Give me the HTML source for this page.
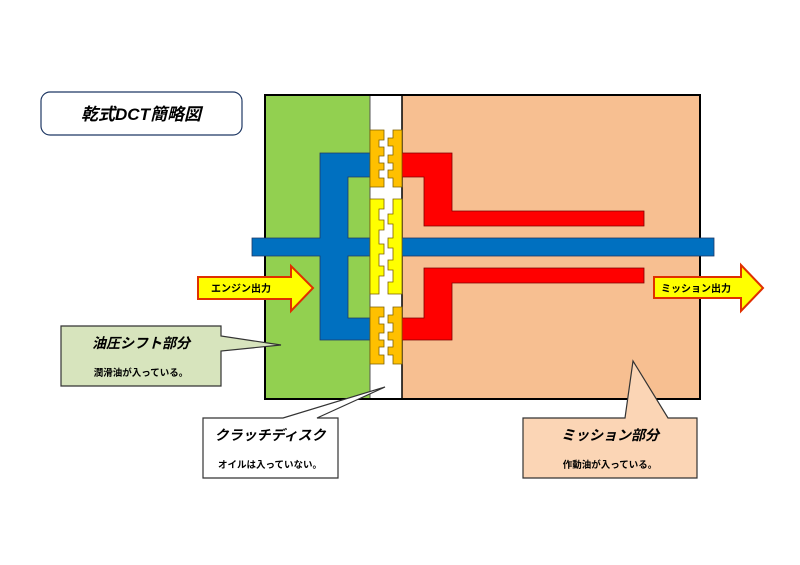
<!DOCTYPE html>
<html><head><meta charset="utf-8"><style>
html,body{margin:0;padding:0;background:#fff;}
svg{display:block;}
text{font-family:"Liberation Sans","Noto Sans CJK JP",sans-serif;font-weight:bold;}
</style></head><body>
<svg width="800" height="565" viewBox="0 0 800 565" xmlns="http://www.w3.org/2000/svg">
<!-- title -->
<rect x="41" y="92" width="201" height="43" rx="9" fill="#fff" stroke="#1f3864" stroke-width="1.2"/>
<text x="141" y="120" font-size="17" font-style="italic" text-anchor="middle" fill="#000">乾式DCT簡略図</text>

<!-- main box -->
<rect x="265" y="95" width="105" height="304" fill="#92d050"/>
<rect x="370" y="95" width="32" height="304" fill="#fff"/>
<rect x="402" y="95" width="298" height="304" fill="#f7bf91"/>
<line x1="370" y1="95" x2="370" y2="399" stroke="#555" stroke-width="1"/>
<line x1="402" y1="95" x2="402" y2="399" stroke="#000" stroke-width="1.5"/>
<rect x="265" y="95" width="435" height="304" fill="none" stroke="#000" stroke-width="2"/>

<!-- blue -->
<g fill="#0070c0" stroke="#1f3864" stroke-width="0.8">
<path d="M320,153 H370 V177 H348 V238 H370 V256 H348 V318 H370 V340 H320 V256 H252 V238 H320 Z"/>
<rect x="402" y="238" width="312" height="18"/>
</g>

<!-- red -->
<g fill="#ff0000" stroke="#7f0000" stroke-width="0.8">
<path d="M402,153 H452 V211 H644 V226 H424 V177 H402 Z"/>
<path d="M424,268 H644 V283 H452 V340 H402 V318 H424 Z"/>
</g>

<!-- clutch pieces -->
<g stroke="#7f6000" stroke-width="0.8">
<path fill="#ffc000" d="M370,130 H384 V140 H379 V147 H384 V156 H379 V163 H384 V170 H379 V178 H384 V187 H370 Z"/>
<path fill="#ffc000" d="M402,130 H393 V138 H388 V146 H393 V155 H388 V163 H393 V170 H388 V178 H393 V187 H402 Z"/>
<path fill="#ffff00" d="M370,199 H384 V209 H379 V220 H384 V230 H379 V244 H384 V254 H379 V266 H384 V276 H379 V294 H370 Z"/>
<path fill="#ffff00" d="M402,199 H393 V214 H388 V224 H393 V238 H388 V248 H393 V260 H388 V270 H393 V282 H388 V294 H402 Z"/>
<path fill="#ffc000" d="M370,307 H384 V317 H379 V324 H384 V333 H379 V340 H384 V347 H379 V355 H384 V364 H370 Z"/>
<path fill="#ffc000" d="M402,307 H393 V315 H388 V323 H393 V332 H388 V340 H393 V347 H388 V355 H393 V364 H402 Z"/>
</g>

<!-- arrows -->
<path d="M198,277 H291 V266 L313,288 L291,311 V299 H198 Z" fill="#ffff00" stroke="#e03000" stroke-width="2"/>
<text x="241" y="292" font-size="10" text-anchor="middle">エンジン出力</text>
<path d="M654,277 H741 V265 L763,288 L741,311 V298 H654 Z" fill="#ffff00" stroke="#e03000" stroke-width="2"/>
<text x="696" y="292" font-size="10" text-anchor="middle">ミッション出力</text>

<!-- callout green -->
<path d="M61,326 H221 V336 L281,345 L221,351 V386 H61 Z" fill="#d7e4bd" stroke="#333" stroke-width="1.2"/>
<text x="141" y="348" font-size="14" font-style="italic" text-anchor="middle">油圧シフト部分</text>
<text x="141" y="376" font-size="9.5" text-anchor="middle">潤滑油が入っている。</text>

<!-- callout clutch -->
<path d="M203,418 H283 L385,387 L317,418 H338 V478 H203 Z" fill="#fff" stroke="#333" stroke-width="1.2"/>
<text x="270" y="440" font-size="14" font-style="italic" text-anchor="middle">クラッチディスク</text>
<text x="270" y="468" font-size="9.5" text-anchor="middle">オイルは入っていない。</text>

<!-- callout mission -->
<path d="M523,418 H625 L633,361 L668,418 H697 V478 H523 Z" fill="#fbd5b5" stroke="#333" stroke-width="1.2"/>
<text x="610" y="440" font-size="14" font-style="italic" text-anchor="middle">ミッション部分</text>
<text x="610" y="468" font-size="9.5" text-anchor="middle">作動油が入っている。</text>
</svg>
</body></html>
